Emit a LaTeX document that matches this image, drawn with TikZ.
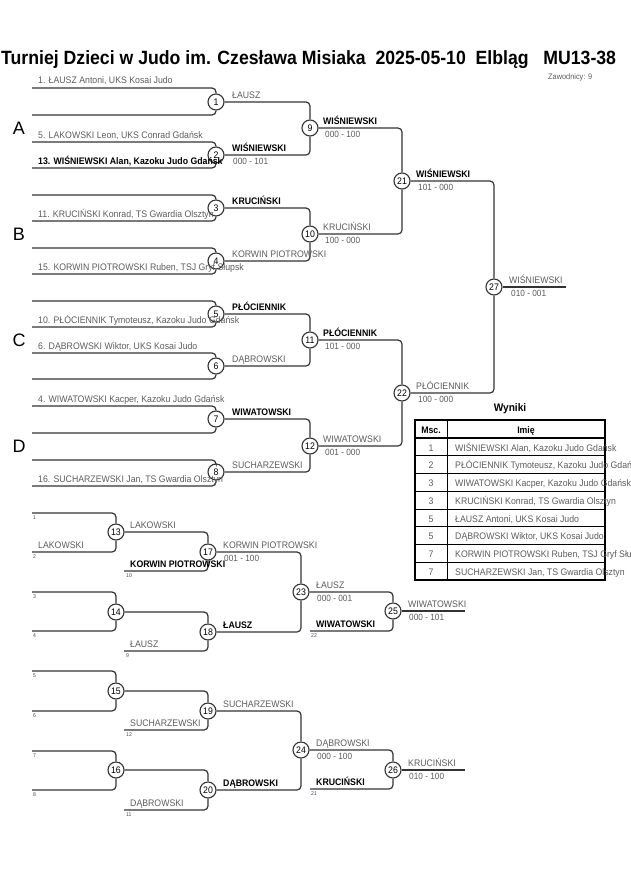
\documentclass[tikz,border=0pt]{standalone}
\usepackage{fontspec}
\setmainfont[FakeStretch=0.92]{Liberation Sans}
\newfontfamily\poolfont{Liberation Sans}
\definecolor{linegray}{HTML}{333333}
\definecolor{namegray}{HTML}{5C5C5C}
\definecolor{seedblue}{HTML}{3A4A6A}
\begin{document}
\begin{tikzpicture}[x=1pt,y=-1pt]
    \tikzset{fight/.style={draw=linegray, circle, inner sep=0pt, minimum size=16pt, fill=white, line width=1.1pt, font=\fontsize{9.5}{10}\selectfont},
      bline/.style={draw=linegray, line width=1.2pt, rounded corners=4pt},
      loser/.style={anchor=base west, inner sep=0pt, text=namegray, font=\fontsize{9.5}{10}\selectfont},
      winner/.style={anchor=base west, inner sep=0pt, text=black, font=\fontsize{9.5}{10}\selectfont\bfseries},
      score/.style={anchor=base west, inner sep=0pt, text=namegray, font=\fontsize{9}{10}\selectfont},
      seed/.style={anchor=base west, inner sep=0pt, text=seedblue, font=\fontsize{5.5}{6}\selectfont},
      pool/.style={inner sep=0pt, font=\poolfont\fontsize{18}{20}\selectfont},
      cell/.style={anchor=base, inner sep=0pt, text=namegray, font=\fontsize{9.5}{10}\selectfont}}
    \useasboundingbox (0,0) rectangle (630,891);

    \node[anchor=base west, inner sep=0pt, font=\fontsize{19.2}{22}\selectfont\bfseries] at (1,64) (title) {Turniej Dzieci w Judo im. Czesława Misiaka\ \ 2025-05-10\ \ Elbląg\ \ \ MU13-38};
    \node[anchor=base west, inner sep=0pt, text=namegray, font=\fontsize{8}{9}\selectfont] at (548,80) (count) {Zawodnicy: 9};

    \node[pool] at (19,128) (poolA) {A};
    \node[pool] at (19,234) (poolB) {B};
    \node[pool] at (19,340) (poolC) {C};
    \node[pool] at (19,446) (poolD) {D};

    \foreach \y [count=\i] in {88,115,142,168,195,221,248,274,301,327,353,379,406,433,460,486}
      \coordinate (s\i) at (32,\y);

    \node[fight] at (216,102) (m1) {1};
    \node[fight] at (216,155) (m2) {2};
    \node[fight] at (216,208) (m3) {3};
    \node[fight] at (216,261) (m4) {4};
    \node[fight] at (216,314) (m5) {5};
    \node[fight] at (216,366) (m6) {6};
    \node[fight] at (216,419) (m7) {7};
    \node[fight] at (216,472) (m8) {8};
    \node[fight] at (310,128) (m9) {9};
    \node[fight] at (310,234) (m10) {10};
    \node[fight] at (310,340) (m11) {11};
    \node[fight] at (310,446) (m12) {12};
    \node[fight] at (402,181) (m21) {21};
    \node[fight] at (402,393) (m22) {22};
    \node[fight] at (494,287) (m27) {27};
    \coordinate (f27) at (566,287);

    \foreach \a/\m in {1/1,2/1,3/2,4/2,5/3,6/3,7/4,8/4,9/5,10/5,11/6,12/6,13/7,14/7,15/8,16/8}
      \draw[bline] (s\a) -| (m\m);
    \foreach \a/\b in {1/9,2/9,3/10,4/10,5/11,6/11,7/12,8/12,9/21,10/21,11/22,12/22,21/27,22/27}
      \draw[bline] (m\a) -| (m\b);
    \draw[bline] (m27) -- (f27);

    \node[loser] at (38,84) (e1) {1. ŁAUSZ Antoni, UKS Kosai Judo};
    \node[loser] at (38,138) (e5) {5. LAKOWSKI Leon, UKS Conrad Gdańsk};
    \node[winner] at (38,164) (e13) {13. WIŚNIEWSKI Alan, Kazoku Judo Gdańsk};
    \node[loser] at (38,217) (e11) {11. KRUCIŃSKI Konrad, TS Gwardia Olsztyn};
    \node[loser] at (38,270) (e15) {15. KORWIN PIOTROWSKI Ruben, TSJ Gryf Słupsk};
    \node[loser] at (38,323) (e10) {10. PŁÓCIENNIK Tymoteusz, Kazoku Judo Gdańsk};
    \node[loser] at (38,349) (e6) {6. DĄBROWSKI Wiktor, UKS Kosai Judo};
    \node[loser] at (38,402) (e4) {4. WIWATOWSKI Kacper, Kazoku Judo Gdańsk};
    \node[loser] at (38,482) (e16) {16. SUCHARZEWSKI Jan, TS Gwardia Olsztyn};

    \node[loser] at (232,98) (w1) {ŁAUSZ};
    \node[winner] at (232,151) (w2) {WIŚNIEWSKI};
    \node[score] at (233,164) (sc2) {000 - 101};
    \node[winner] at (232,204) (w3) {KRUCIŃSKI};
    \node[loser] at (232,257) (w4) {KORWIN PIOTROWSKI};
    \node[winner] at (232,310) (w5) {PŁÓCIENNIK};
    \node[loser] at (232,362) (w6) {DĄBROWSKI};
    \node[winner] at (232,415) (w7) {WIWATOWSKI};
    \node[loser] at (232,468) (w8) {SUCHARZEWSKI};
    \node[winner] at (323,124) (w9) {WIŚNIEWSKI};
    \node[score] at (325,137) (sc9) {000 - 100};
    \node[loser] at (323,230) (w10) {KRUCIŃSKI};
    \node[score] at (325,243) (sc10) {100 - 000};
    \node[winner] at (323,336) (w11) {PŁÓCIENNIK};
    \node[score] at (325,349) (sc11) {101 - 000};
    \node[loser] at (323,442) (w12) {WIWATOWSKI};
    \node[score] at (325,455) (sc12) {001 - 000};
    \node[winner] at (416,177) (w21) {WIŚNIEWSKI};
    \node[score] at (418,190) (sc21) {101 - 000};
    \node[loser] at (416,389) (w22) {PŁÓCIENNIK};
    \node[score] at (418,402) (sc22) {100 - 000};
    \node[loser] at (509,283) (w27) {WIŚNIEWSKI};
    \node[score] at (511,296) (sc27) {010 - 001};

    \node[anchor=base, inner sep=0pt, font=\fontsize{11}{12}\selectfont\bfseries] at (510,411) (wyniki) {Wyniki};
    \draw[line width=1.8pt] (415,420) rectangle (605,580);
    \draw[line width=1.3pt] (415,438) -- (605,438);
    \foreach \i in {1,...,7}
      \draw[line width=0.8pt] (415,{438+17.75*\i}) -- (605,{438+17.75*\i});
    \draw[line width=0.8pt] (447,420) -- (447,580);
    \node[anchor=base, inner sep=0pt, font=\fontsize{9.5}{10}\selectfont\bfseries] at (431,433) (hmsc) {Msc.};
    \node[anchor=base, inner sep=0pt, font=\fontsize{9.5}{10}\selectfont\bfseries] at (526,433) (himie) {Imię};
    \foreach \p/\n [count=\i] in {1/{WIŚNIEWSKI Alan, Kazoku Judo Gdańsk},2/{PŁÓCIENNIK Tymoteusz, Kazoku Judo Gdańsk},3/{WIWATOWSKI Kacper, Kazoku Judo Gdańsk},3/{KRUCIŃSKI Konrad, TS Gwardia Olsztyn},5/{ŁAUSZ Antoni, UKS Kosai Judo},5/{DĄBROWSKI Wiktor, UKS Kosai Judo},7/{KORWIN PIOTROWSKI Ruben, TSJ Gryf Słupsk},7/{SUCHARZEWSKI Jan, TS Gwardia Olsztyn}}{
      \node[cell] at (431,{438+17.75*\i-4.75}) (p\i) {\p};
      \node[cell, anchor=base west] at (455,{438+17.75*\i-4.75}) (n\i) {\n};
    }

    \foreach \y [count=\i] in {513,552,592,631,671,711,751,790}
      \coordinate (r\i) at (32,\y);
    \coordinate (q10) at (124,571);
    \coordinate (q9) at (124,651);
    \coordinate (q12) at (124,730);
    \coordinate (q11) at (124,810);
    \coordinate (q22) at (310,631);
    \coordinate (q21) at (310,789);

    \node[fight] at (116,532) (m13) {13};
    \node[fight] at (116,612) (m14) {14};
    \node[fight] at (116,691) (m15) {15};
    \node[fight] at (116,770) (m16) {16};
    \node[fight] at (208,552) (m17) {17};
    \node[fight] at (208,632) (m18) {18};
    \node[fight] at (208,711) (m19) {19};
    \node[fight] at (208,790) (m20) {20};
    \node[fight] at (301,592) (m23) {23};
    \node[fight] at (301,750) (m24) {24};
    \node[fight] at (393,611) (m25) {25};
    \node[fight] at (393,770) (m26) {26};
    \coordinate (f25) at (465,611);
    \coordinate (f26) at (465,770);

    \foreach \a/\m in {1/13,2/13,3/14,4/14,5/15,6/15,7/16,8/16}
      \draw[bline] (r\a) -| (m\m);
    \foreach \a/\m in {10/17,9/18,12/19,11/20,22/25,21/26}
      \draw[bline] (q\a) -| (m\m);
    \foreach \a/\b in {13/17,14/18,15/19,16/20,17/23,18/23,19/24,20/24,23/25,24/26}
      \draw[bline] (m\a) -| (m\b);
    \draw[bline] (m25) -- (f25);
    \draw[bline] (m26) -- (f26);

    \foreach \y [count=\i] in {513,552,592,631,671,711,751,790}
      \node[seed] at (33,\y+6.5) (d\i) {\i};
    \node[seed] at (126,577.5) (d10) {10};
    \node[seed] at (126,657.5) (d9) {9};
    \node[seed] at (126,736.5) (d12) {12};
    \node[seed] at (126,816.5) (d11) {11};
    \node[seed] at (311,637.5) (d22) {22};
    \node[seed] at (311,795.5) (d21) {21};

    \node[loser] at (38,548) (l2) {LAKOWSKI};
    \node[loser] at (130,528) (w13) {LAKOWSKI};
    \node[winner] at (130,567) (l10) {KORWIN PIOTROWSKI};
    \node[loser] at (223,548) (w17) {KORWIN PIOTROWSKI};
    \node[score] at (224,561) (sc17) {001 - 100};
    \node[loser] at (130,647) (l9) {ŁAUSZ};
    \node[winner] at (223,628) (w18) {ŁAUSZ};
    \node[loser] at (316,588) (w23) {ŁAUSZ};
    \node[score] at (317,601) (sc23) {000 - 001};
    \node[winner] at (316,627) (l22) {WIWATOWSKI};
    \node[loser] at (408,607) (w25) {WIWATOWSKI};
    \node[score] at (409,620) (sc25) {000 - 101};
    \node[loser] at (130,726) (l12) {SUCHARZEWSKI};
    \node[loser] at (223,707) (w19) {SUCHARZEWSKI};
    \node[loser] at (130,806) (l11) {DĄBROWSKI};
    \node[winner] at (223,786) (w20) {DĄBROWSKI};
    \node[loser] at (316,746) (w24) {DĄBROWSKI};
    \node[score] at (317,759) (sc24) {000 - 100};
    \node[winner] at (316,785) (l21) {KRUCIŃSKI};
    \node[loser] at (408,766) (w26) {KRUCIŃSKI};
    \node[score] at (409,779) (sc26) {010 - 100};
\end{tikzpicture}
\end{document}
